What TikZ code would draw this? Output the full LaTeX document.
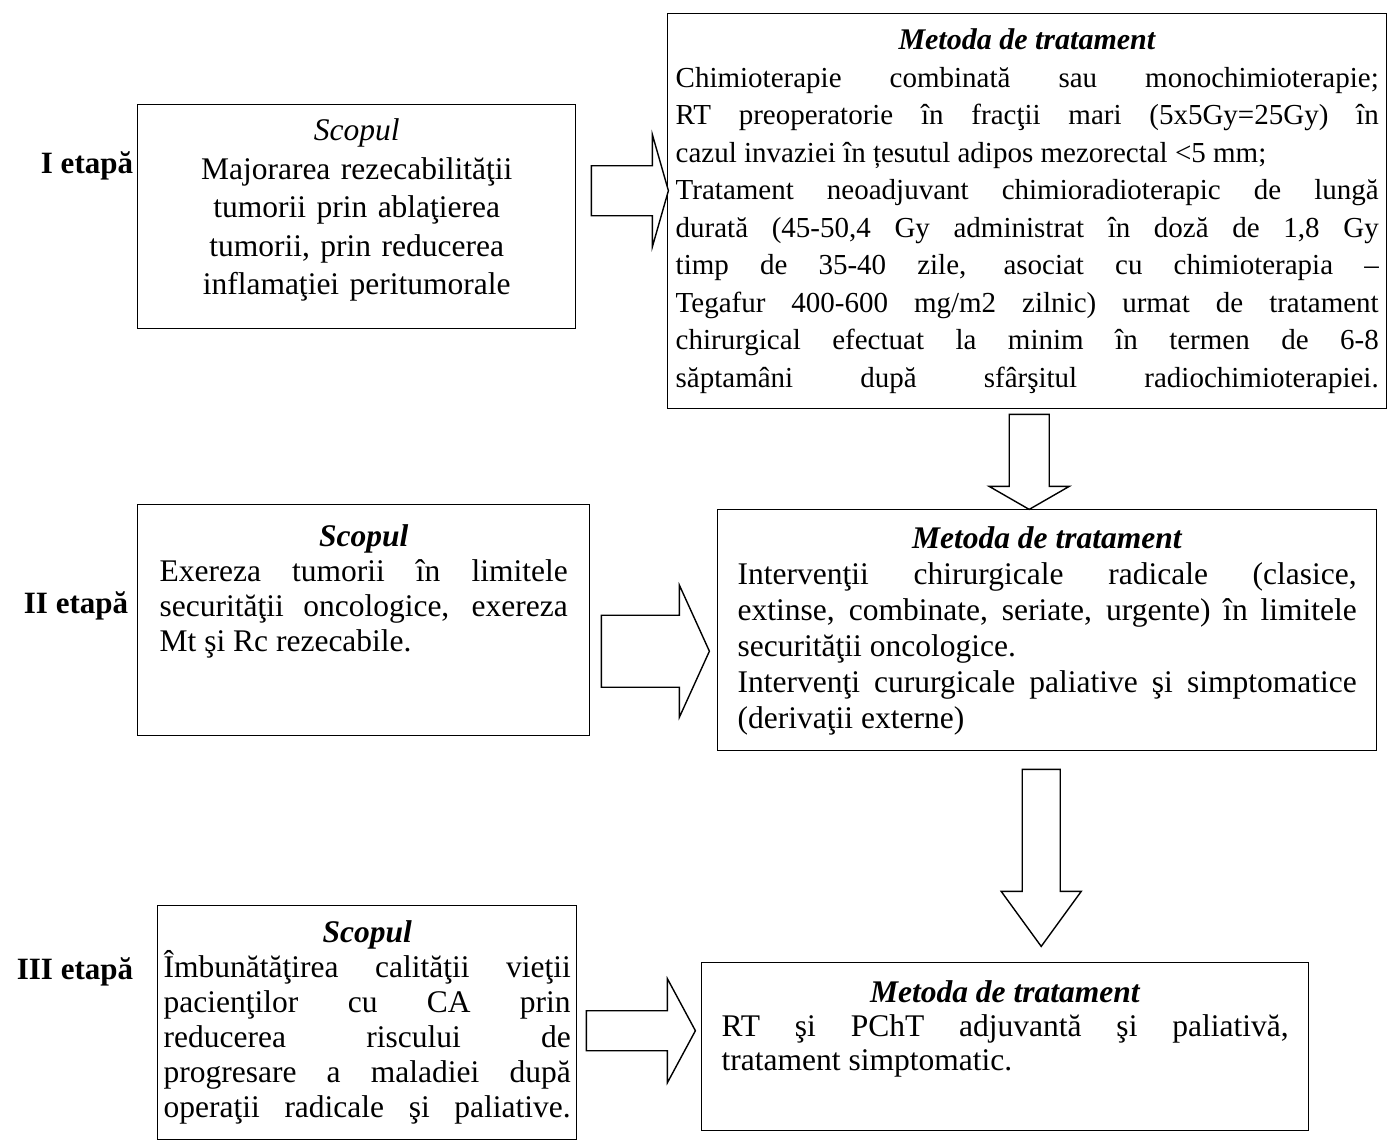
\documentclass[tikz,border=0pt]{standalone}
\usepackage{fontspec}
\setmainfont{Liberation Serif}
\usetikzlibrary{positioning, calc}

\tikzset{
    box/.style={draw, line width=1.4pt, anchor=north west, inner xsep=8pt, inner ysep=0pt, align=justify, font=\fontsize{31.5}{35}\selectfont},
    stage/.style={font=\fontsize{31}{35}\selectfont\bfseries},
    blk/.style={draw, line width=1.4pt, fill=white, line join=miter},
    % length / half shaft / half head / head length
    pics/blockarrow/.style args={#1/#2/#3/#4}{
        code={\draw[blk] (0,-#2) -- ({#1-#4},-#2) -- ({#1-#4},-#3) -- (#1,0) -- ({#1-#4},#3) -- ({#1-#4},#2) -- (0,#2) -- cycle;}
    },
}
\newcommand{\headline}[1]{\centerline{\textbf{\textit{#1}}}}

\begin{document}
\begin{tikzpicture}[x=1pt, y=-1pt]
    \useasboundingbox[fill=white] (0,0) rectangle (1387,1140);

    % Stage I
    \node[stage] (st1) at (87,166) {I etapă};
    \node[box, text width=422pt, text height=36pt, text depth=188pt, align=center, font=\fontsize{31.5}{38.5}\selectfont] (sc1) at (137,104)
        {\textit{Scopul}\\Majorarea rezecabilităţii\\tumorii prin ablaţierea\\tumorii, prin reducerea\\inflamaţiei peritumorale};
    \node[box, text width=703pt, text height=36pt, text depth=359pt, font=\fontsize{29}{37.5}\selectfont] (mt1) at (667,13)
        {\headline{\fontsize{30}{37.5}\selectfont Metoda de tratament}
        Chimioterapie combinată sau monochimioterapie;\linebreak
        RT preoperatorie în fracţii mari (5x5Gy=25Gy) în\linebreak
        cazul invaziei în țesutul adipos mezorectal <5 mm;\par
        {\parfillskip=0pt Tratament neoadjuvant chimioradioterapic de lungă\linebreak
        durată (45-50,4 Gy administrat în doză de 1,8 Gy\linebreak
        timp de 35-40 zile, asociat cu chimioterapia –\linebreak
        Tegafur 400-600 mg/m2 zilnic) urmat de tratament\linebreak
        chirurgical efectuat la minim în termen de 6-8\linebreak
        săptamâni după sfârşitul radiochimioterapiei.\par}};

    % Stage II
    \node[stage] (st2) at (76,606) {II etapă};
    \node[box, inner xsep=22pt, text width=408pt, text height=42pt, text depth=189pt] (sc2) at (137,504)
        {\headline{Scopul}
        Exereza tumorii în limitele\linebreak
        securităţii oncologice, exereza\linebreak
        Mt şi Rc rezecabile.};
    \node[box, inner xsep=20pt, text width=619pt, text height=39pt, text depth=202pt, font=\fontsize{31.5}{36}\selectfont] (mt2) at (717,509)
        {\headline{Metoda de tratament}
        Intervenţii chirurgicale radicale (clasice,\linebreak
        extinse, combinate, seriate, urgente) în limitele\linebreak
        securităţii oncologice.\par
        Intervenţi cururgicale paliative şi simptomatice\linebreak
        (derivaţii externe)};

    % Stage III
    \node[stage] (st3) at (75,972) {III etapă};
    \node[box, inner xsep=6pt, text width=407pt, text height=37pt, text depth=197pt] (sc3) at (157,905)
        {\headline{Scopul}
        Îmbunătăţirea calităţii vieţii\linebreak
        pacienţilor cu CA prin\linebreak
        reducerea riscului de\linebreak
        progresare a maladiei după\linebreak
        {\parfillskip=0pt operaţii radicale şi paliative.\par}};
    \node[box, inner xsep=20pt, text width=567pt, text height=40pt, text depth=128pt, font=\fontsize{31.5}{34}\selectfont] (mt3) at (701,962)
        {\headline{Metoda de tratament}
        RT şi PChT adjuvantă şi paliativă,\linebreak
        tratament simptomatic.};

    % Block arrows
    \pic (ar1) at ($(sc1.east)+(15,-26)$) {blockarrow=77/25/56/16};
    \pic (ar2) at ($(sc2.east)+(11,31)$) {blockarrow=108/36/66/30};
    \pic (ar3) at ($(sc3.east)+(9,8)$) {blockarrow=109/20/52/28};
    \pic[rotate=-90] (dn1) at ($(mt1.south)+(2,5)$) {blockarrow=95/20/40/23};
    \pic[rotate=-90] (dn2) at ($(mt2.south)+(-6,18)$) {blockarrow=177/19/40/55};
\end{tikzpicture}
\end{document}
